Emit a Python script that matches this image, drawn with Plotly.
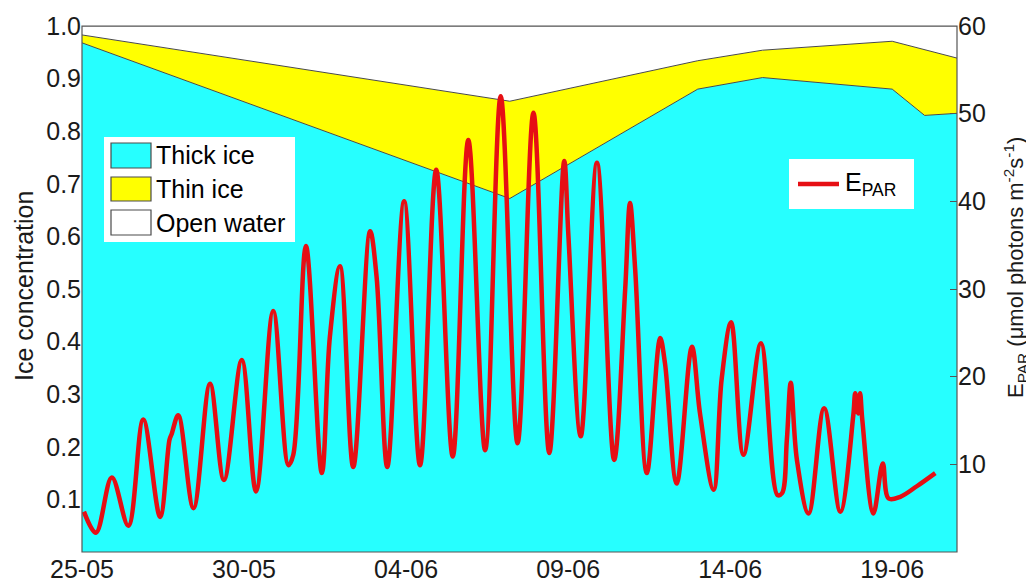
import pandas as pd
import plotly.graph_objects as go

# ---------------- data ----------------
start_date = "2013-05-25"

# sea-ice concentration (fractions), at day offsets from 25-05 00:00
ice_day = [0.0, 13.2, 19.0, 21.0, 25.0, 26.0, 27.0]
thick_ice = [0.968, 0.672, 0.880, 0.902, 0.880, 0.830, 0.834]
total_ice = [0.983, 0.857, 0.934, 0.954, 0.971, 0.955, 0.939]

# E_PAR (umol photons m-2 s-1), at day offsets from 25-05 00:00
epar_day = [0.06, 0.43, 0.92, 1.43, 1.89, 2.41, 2.70, 2.77, 2.97, 3.44,
            3.95, 4.38, 4.93, 5.37, 5.90, 6.37, 6.52, 6.91, 7.40, 7.65,
            7.96, 8.37, 8.89, 9.09, 9.42, 9.94, 10.43, 10.93, 11.44, 11.92,
            12.44, 12.92, 13.44, 13.93, 14.42, 14.88, 15.01, 15.39, 15.89, 16.42,
            16.76, 16.91, 17.07, 17.43, 17.84, 17.99, 18.35, 18.82, 19.07, 19.49,
            19.74, 20.03, 20.41, 20.95, 21.46, 21.60, 21.75, 21.87, 22.06, 22.42,
            22.90, 23.40, 23.80, 23.86, 23.95, 24.01, 24.08, 24.42, 24.71, 24.89,
            25.25, 25.76, 26.33]
epar_val = [4.6, 2.2, 8.5, 3.0, 15.1, 4.0, 12.8, 13.5, 15.6, 5.0,
            19.2, 8.2, 21.9, 6.9, 27.5, 9.9, 11.1, 34.9, 9.0, 24.6,
            32.6, 9.7, 36.6, 31.4, 9.7, 40.0, 9.9, 43.6, 10.9, 47.0,
            11.6, 52.0, 12.4, 50.1, 11.3, 44.6, 36.0, 13.2, 44.4, 10.5,
            29.9, 39.8, 32.2, 9.0, 24.4, 21.5, 7.8, 23.4, 15.8, 7.1,
            19.8, 26.2, 11.1, 23.8, 6.5, 6.7, 12.8, 19.3, 10.5, 4.4,
            16.4, 4.6, 15.6, 18.1, 15.8, 18.1, 15.0, 4.4, 10.1, 6.1,
            6.3, 7.5, 9.0]

x_tick_days = [0, 5, 10, 15, 20, 25]
y_ticks = [0.1, 0.2, 0.3, 0.4, 0.5, 0.6, 0.7, 0.8, 0.9, 1.0]
y2_ticks = [10, 20, 30, 40, 50, 60]
legend_labels = ["Thick ice", "Thin ice", "Open water"]
y_title = "Ice concentration"
y2_title = "E<sub>PAR</sub> (μmol photons m<sup>-2</sup>s<sup>-1</sup>)"
x_end_day = 27.0

# ---------------- derived ----------------
t0 = pd.Timestamp(start_date)
to_time = lambda days: [t0 + pd.Timedelta(days=d) for d in days]
ice_t = to_time(ice_day)
thin_ice = [tot - th for tot, th in zip(total_ice, thick_ice)]
open_water = [1.0 - tot for tot in total_ice]
epar_t = to_time(epar_day)

CYAN = "#26FFFF"
YELLOW = "#FFFF00"
RED = "#E60F14"
EDGE = "#4a4a4a"
FONT = "Liberation Sans, Arial, sans-serif"

fig = go.Figure()
for name, vals, col in zip(legend_labels, [thick_ice, thin_ice, open_water], [CYAN, YELLOW, "#FFFFFF"]):
    fig.add_trace(go.Scatter(x=ice_t, y=vals, name=name, stackgroup="ice", mode="lines",
                             line=dict(color=EDGE, width=1), fillcolor=col,
                             showlegend=False, hoverinfo="skip"))
fig.add_trace(go.Scatter(x=epar_t, y=epar_val, name="E_PAR", yaxis="y2", mode="lines",
                         line=dict(color=RED, width=4.5, shape="spline", smoothing=1.0),
                         showlegend=False))

# ---------------- layout ----------------
# the page body adds an 8 px offset, so the figure is 8 px smaller than the window
OFF = 8
W, H = 1034 - OFF, 583 - OFF
# plot area in window pixels
L, R, T, B = 82, 957, 26, 552
px = lambda x: (x - L) / (R - L)
py = lambda y: (B - y) / (B - T)

shapes = [dict(type="rect", xref="paper", yref="paper", x0=0, x1=1, y0=0, y1=1,
               line=dict(color="#555555", width=1.2), layer="above")]
annotations = []
# ice legend (drawn like the MATLAB legend box)
shapes.append(dict(type="rect", xref="paper", yref="paper", x0=px(104), x1=px(295),
                   y0=py(242), y1=py(137), fillcolor="white", line=dict(width=0), layer="above"))
rows = [(143, 168), (177, 201), (210, 235)]
for (y0, y1), lab, col in zip(rows, legend_labels, [CYAN, YELLOW, "#FFFFFF"]):
    shapes.append(dict(type="rect", xref="paper", yref="paper", x0=px(111), x1=px(151),
                       y0=py(y1), y1=py(y0), fillcolor=col, line=dict(color=EDGE, width=1.2),
                       layer="above"))
    annotations.append(dict(xref="paper", yref="paper", x=px(154), y=py((y0 + y1) / 2),
                            text=lab, showarrow=False, xanchor="left", yanchor="middle",
                            font=dict(family=FONT, size=25, color="black")))
# E_PAR legend
shapes.append(dict(type="rect", xref="paper", yref="paper", x0=px(789), x1=px(914),
                   y0=py(209), y1=py(159), fillcolor="white", line=dict(width=0), layer="above"))
shapes.append(dict(type="line", xref="paper", yref="paper", x0=px(798), x1=px(839),
                   y0=py(184), y1=py(184), line=dict(color=RED, width=4.5), layer="above"))
annotations.append(dict(xref="paper", yref="paper", x=px(843), y=py(184),
                        text="E<sub>PAR</sub>", showarrow=False, xanchor="left", yanchor="middle",
                        font=dict(family=FONT, size=25, color="black")))
# axis titles
annotations.append(dict(xref="paper", yref="paper", x=px(24), y=py(286), text=y_title,
                        textangle=-90, showarrow=False, xanchor="center", yanchor="middle",
                        borderpad=0, font=dict(family=FONT, size=25, color="#1a1a1a")))
annotations.append(dict(xref="paper", yref="paper", x=px(1015), y=py(268), text=y2_title,
                        textangle=-90, showarrow=False, xanchor="center", yanchor="middle",
                        borderpad=0, font=dict(family=FONT, size=22, color="#1a1a1a")))

fig.update_layout(
    width=W, height=H,
    margin=dict(l=L - OFF, r=W - (R - OFF), t=T - OFF, b=H - (B - OFF), pad=0, autoexpand=False),
    paper_bgcolor="white", plot_bgcolor="white",
    font=dict(family=FONT, size=25, color="#1a1a1a"),
    showlegend=False,
    xaxis=dict(type="date", range=[t0, t0 + pd.Timedelta(days=x_end_day)],
               tickvals=to_time(x_tick_days), tickformat="%d-%m",
               ticks="inside", ticklen=6, tickcolor="#555555", mirror="ticks",
               showline=False, showgrid=False, zeroline=False, layer="below traces",
               automargin=False, tickfont=dict(size=25)),
    yaxis=dict(range=[0, 1], tickvals=y_ticks, ticktext=[f"{v:.1f}" for v in y_ticks],
               ticks="inside", ticklen=6, tickcolor="#555555",
               showline=False, showgrid=False, zeroline=False, layer="below traces",
               automargin=False, tickfont=dict(size=25)),
    yaxis2=dict(range=[0, 60], overlaying="y", side="right", tickvals=y2_ticks,
                ticks="inside", ticklen=7, tickcolor="#555555",
                showline=False, showgrid=False, zeroline=False, automargin=False,
                tickfont=dict(size=25)),
    shapes=shapes, annotations=annotations,
)

fig.write_html("out.html")
